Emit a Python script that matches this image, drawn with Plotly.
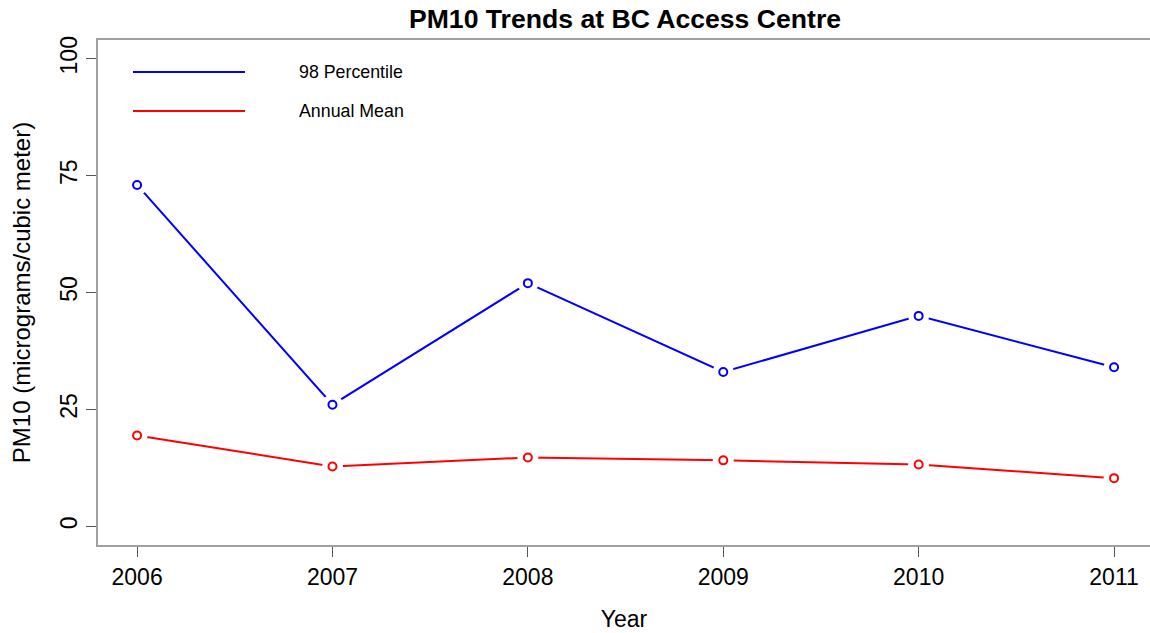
import plotly.graph_objects as go

years = [2006, 2007, 2008, 2009, 2010, 2011]
pct98 = [73, 26, 52, 33, 45, 34]
annual_mean = [19.4, 12.8, 14.7, 14.1, 13.2, 10.3]
y_ticks = [0, 25, 50, 75, 100]

W, H = 1150, 633
FONT = "Liberation Sans, Arial, sans-serif"
series = [("98 Percentile", pct98, "#0000FF"), ("Annual Mean", annual_mean, "#FF0000")]

fig = go.Figure()
for i, (name, vals, col) in enumerate(series):
    fig.add_trace(go.Scatter(x=years, y=vals, mode="lines", name=name,
                             line=dict(color=col, width=2), showlegend=False,
                             hoverinfo="skip"))
for name, vals, col in series:
    fig.add_trace(go.Scatter(x=years, y=vals, mode="markers", showlegend=False,
                             marker=dict(symbol="circle", size=21, color="white",
                                         line=dict(width=0)), hoverinfo="skip"))
for name, vals, col in series:
    fig.add_trace(go.Scatter(x=years, y=vals, mode="markers", showlegend=False, name=name,
                             marker=dict(symbol="circle-open", size=8, color=col,
                                         line=dict(width=2, color=col))))

# legend drawn as in R (no box): long line keys and text further right
legend_rows = [72, 111]
shapes, annotations = [], []
for (name, vals, col), py in zip(series, legend_rows):
    shapes.append(dict(type="line", xref="paper", yref="paper",
                       x0=(133 - 98) / (W - 98), x1=(245 - 98) / (W - 98),
                       y0=(H - 88 - py) / (H - 40 - 88), y1=(H - 88 - py) / (H - 40 - 88),
                       line=dict(color=col, width=2)))
    annotations.append(dict(text=name, xref="paper", yref="paper", showarrow=False,
                            x=(297 - 98) / (W - 98), xanchor="left",
                            y=(H - 88 - py) / (H - 40 - 88), yanchor="middle",
                            font=dict(size=17.8, family=FONT, color="black")))

fig.update_layout(
    width=W, height=H,
    margin=dict(l=98, r=0, t=40, b=88),
    paper_bgcolor="white", plot_bgcolor="white",
    font=dict(family=FONT, color="black"),
    title=dict(text="<b>PM10 Trends at BC Access Centre</b>", x=(98 + 1152) / 2 / W, xanchor="center",
               y=1 - 19 / H, yanchor="middle", font=dict(size=26.6, family=FONT)),
    showlegend=False,
    shapes=shapes, annotations=annotations,
)
fig.update_xaxes(range=[2005.8, 2011.184], tickvals=years, ticktext=[str(y) for y in years],
                 ticks="outside", ticklen=10, tickcolor="#555555", tickwidth=1,
                 showline=True, linecolor="#A0A0A0", linewidth=2, mirror=True,
                 showgrid=False, zeroline=False,
                 tickfont=dict(size=23, family=FONT, color="black"),
                 title=dict(text="Year", font=dict(size=23, family=FONT), standoff=22))
fig.update_yaxes(range=[-4, 104], tickvals=y_ticks, ticktext=[str(v) for v in y_ticks],
                 ticks="outside", ticklen=10, tickcolor="#555555", tickwidth=1,
                 showline=True, linecolor="#A0A0A0", linewidth=2, mirror=False,
                 showgrid=False, zeroline=False, tickangle=-90,
                 tickfont=dict(size=23, family=FONT, color="black"),
                 title=dict(text="PM10 (micrograms/cubic meter)", font=dict(size=24, family=FONT),
                            standoff=18))

fig.write_html("out.html")
